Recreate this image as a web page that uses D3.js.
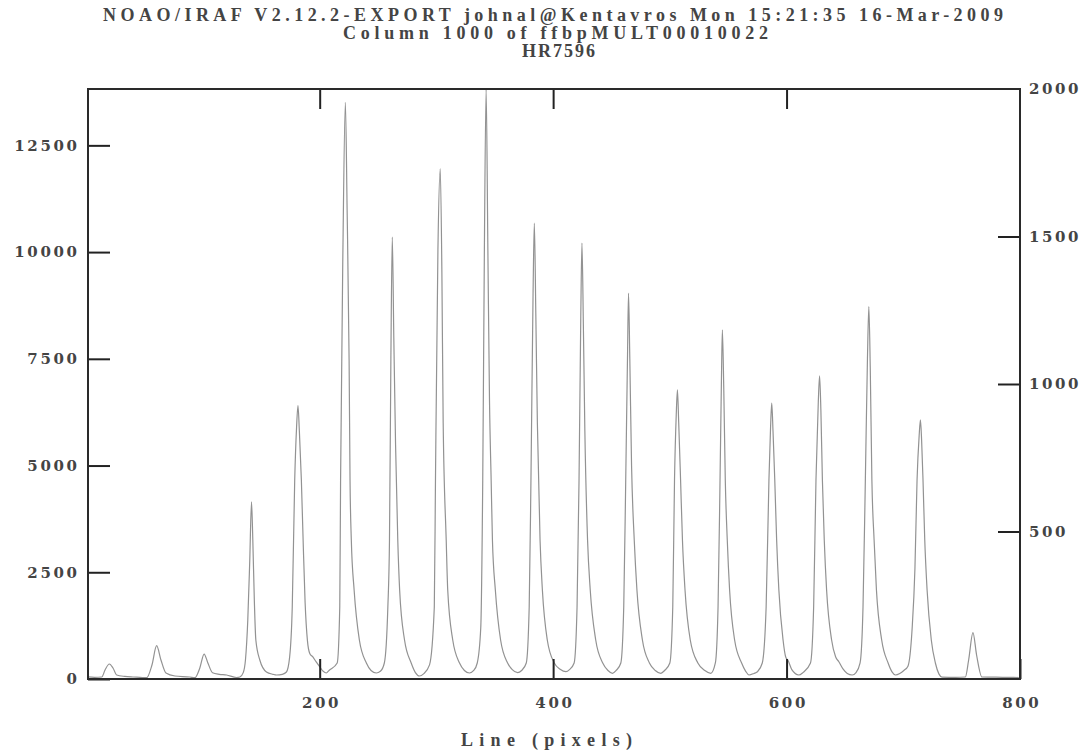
<!DOCTYPE html>
<html>
<head>
<meta charset="utf-8">
<script src="https://cdn.jsdelivr.net/npm/d3@7"></script>
<style>
  body { margin: 0; background: #fff; }
  text { font-family: "Liberation Serif", "DejaVu Serif", serif; font-weight: bold; fill: #444; }
</style>
</head>
<body>
<div id="plot"></div>
<script>
// column cut through the echelle orders
var linePix = [
    1.5, 7, 13.3, 16.1, 19.8, 22.9, 26.1, 33, 40, 46,
    51.8, 56.3, 60.3, 64, 68.3, 76, 88.7,
    93.1, 97.3, 101, 104.2, 108.2, 114, 120.2, 128.7,
    131.6, 134.5, 136.4, 138.4, 140.1, 141.6, 142.7, 144, 145.3, 148.7, 154.4, 160, 163,
    168, 171.5, 174.2, 176.5, 178.6, 180.2, 181.4, 182.6, 184.3, 185.8, 187.5, 189.5, 191.5, 194, 197, 200, 203, 205.7,
    208, 215, 217.2, 217.9, 219.9, 222, 223.5, 225.2, 226, 227.1, 229.5, 234, 240, 244, 248.5, 252,
    255.4, 258.4, 259.8, 261, 262.2, 263.5, 265, 266.9, 268.5, 272.7, 278.4, 282, 285.5, 289,
    294.1, 298.2, 299.2, 301.3, 303.3, 304.7, 305.8, 308.4, 309.7, 314, 319.8, 324, 328.3, 332,
    335, 338, 339.7, 341.1, 342.6, 344.1, 345.5, 346.9, 348, 350.5, 355, 361, 365, 369.6, 373,
    377, 379.5, 381, 382.8, 383.9, 385.2, 386.5, 388.8, 390.8, 395, 401, 406, 411, 414,
    418, 420.5, 422.2, 423.7, 424.7, 425.9, 427.2, 429.5, 431.8, 436.5, 442.5, 447, 450.9, 454,
    458, 460.5, 462.2, 463.7, 464.6, 465.7, 467.2, 469.5, 471.8, 476.5, 482.5, 487.5, 492.3, 495.5,
    500, 502.5, 504, 505.5, 506.5, 507.6, 509.2, 510.8, 513, 517.5, 524, 530, 535.1,
    539, 541.3, 543, 544.2, 545, 546.2, 547.5, 549.2, 551.2, 555.5, 561.5, 565, 567.8, 572,
    575, 579.2, 582.5, 584.9, 586.3, 587.3, 588.4, 589.9, 591.5, 593.4, 597, 599.2, 601.5, 604.5, 610.5, 614,
    620.5, 623.2, 625.2, 627.2, 628.3, 629.4, 630.7, 632.3, 634.3, 638.6, 642, 644.8, 648.5, 652, 656.2, 659.5,
    663, 665.5, 667.5, 669.3, 670.5, 671.7, 673.1, 675, 677, 681.5, 687, 690.5, 693.3, 697,
    700.5, 704, 707.5, 710, 711.8, 713.6, 714.7, 715.7, 716.9, 718.4, 720.4, 724, 727.5, 730.5, 733.2,
    745, 753.2, 756, 759.7, 762.8, 767.4, 785, 799
];
var counts = [
    50, 40, 47, 211, 351, 258, 94, 60, 47, 40,
    30, 328, 780, 445, 141, 70, 47,
    30, 258, 585, 375, 148, 110, 94, 35,
    47, 150, 445, 1382, 2787, 4152, 3256, 1850, 913, 445, 164, 110, 94,
    110, 164, 500, 1686, 4661, 5900, 6403, 5800, 4661, 3255, 1800, 900, 600, 522, 400, 288, 180, 141,
    200, 375, 1686, 4661, 10047, 13506, 11000, 7471, 4661, 3255, 2084, 913, 375, 200, 141, 180,
    375, 1686, 3255, 7500, 10349, 8000, 5500, 3255, 2084, 913, 375, 150, 70, 120,
    330, 1686, 4661, 10047, 11950, 9500, 6000, 3255, 2084, 913, 375, 200, 141, 200,
    375, 1200, 4661, 10047, 13820, 10047, 6500, 4661, 3255, 2084, 913, 375, 220, 148, 200,
    375, 1686, 4661, 9000, 10677, 8500, 6000, 3255, 2084, 913, 375, 230, 171, 220,
    375, 1686, 4661, 8500, 10209, 8300, 5800, 3255, 2084, 913, 375, 200, 134, 200,
    375, 1686, 4661, 7500, 9037, 7500, 5000, 3255, 2084, 913, 375, 200, 134, 200,
    375, 1686, 4661, 6200, 6771, 6000, 4661, 3255, 2084, 913, 375, 200, 134,
    375, 1686, 4661, 7000, 8177, 6800, 4661, 3255, 2084, 913, 375, 180, 94, 130,
    170, 375, 1686, 4661, 5900, 6460, 5800, 4661, 3255, 2084, 913, 522, 420, 220, 94, 150,
    375, 1686, 4661, 6500, 7099, 6300, 4661, 3255, 2084, 913, 520, 405, 230, 130, 94, 150,
    375, 1686, 4661, 7500, 8723, 7300, 4661, 3255, 2084, 913, 375, 160, 94, 130,
    200, 300, 1148, 2600, 4661, 5700, 6068, 5600, 4661, 3255, 2084, 913, 375, 120, 45,
    40, 47, 445, 1084, 562, 47, 40, 35
];

var titleLines = [
    "NOAO/IRAF V2.12.2-EXPORT johnal@Kentavros Mon 15:21:35 16-Mar-2009",
    "Column 1000 of ffbpMULT00010022",
    "HR7596"
];
var xLabel = "Line (pixels)";
var leftTicks = [0, 2500, 5000, 7500, 10000, 12500];
var rightTicks = [500, 1000, 1500, 2000];
var bottomTicks = [200, 400, 600, 800];
var topTicks = [200, 400, 600];

var data = linePix.map((d, i) => ({ line: d, value: counts[i] }));

var margin = { top: 89, right: 66, bottom: 73, left: 88 },
    width = 1086 - margin.left - margin.right,
    height = 752 - margin.top - margin.bottom;

var svgRoot = d3.select("#plot")
    .append("svg")
    .attr("width", 1086)
    .attr("height", 752);

svgRoot.append("rect")
    .attr("width", 1086).attr("height", 752)
    .attr("fill", "#fff");

var svg = svgRoot.append("g")
    .attr("transform", "translate(" + margin.left + "," + margin.top + ")");

var x = d3.scaleLinear().domain([1.5, 800]).range([0, width]);
var y = d3.scaleLinear().domain([0, 13820]).range([height, 0]);
var yRight = d3.scaleLinear().domain([0, 2000]).range([height, 0]);

// spectrum trace
svg.append("path")
    .datum(data)
    .attr("fill", "none")
    .attr("stroke", "#929292")
    .attr("stroke-width", 1.2)
    .attr("d", d3.line().curve(d3.curveMonotoneX).x(d => x(d.line)).y(d => y(d.value)));

// axes, ticks pointing inward like IRAF
var axLeft = svg.append("g")
    .call(d3.axisLeft(y).tickValues(leftTicks).tickSize(-22).tickPadding(8.5).tickFormat(d3.format("d")));
var axRight = svg.append("g")
    .attr("transform", "translate(" + width + ",0)")
    .call(d3.axisRight(yRight).tickValues(rightTicks).tickSize(-22).tickPadding(9).tickFormat(d3.format("d")));
var axBottom = svg.append("g")
    .attr("transform", "translate(0," + height + ")")
    .call(d3.axisBottom(x).tickValues(bottomTicks).tickSize(-20).tickPadding(18).tickFormat(d3.format("d")));
var axTop = svg.append("g")
    .call(d3.axisTop(x).tickValues(topTicks).tickSize(-20).tickFormat(""));

[axLeft, axRight, axBottom, axTop].forEach(function(g) {
    g.select(".domain").remove();
    g.selectAll(".tick line").attr("stroke", "#222").attr("stroke-width", 2);
    g.selectAll(".tick text")
        .style("font-family", "'DejaVu Serif', serif")
        .style("font-weight", "bold")
        .style("font-size", "15px")
        .style("letter-spacing", "2.6px")
        .attr("fill", "#555");
});
axBottom.selectAll(".tick text").attr("dx", "1.3");
axRight.selectAll(".tick line").filter(d => d === 2000).remove();

// frame
svg.append("rect")
    .attr("width", width)
    .attr("height", height)
    .attr("fill", "none")
    .attr("stroke", "#2a2a2a")
    .attr("stroke-width", 2);

// title block
var titleSpans = [[103, 21, 900], [343, 39, 425], [522, 57, 73]];
svgRoot.selectAll(".title")
    .data(titleLines)
    .enter()
    .append("text")
    .attr("class", "title")
    .attr("x", (d, i) => titleSpans[i][0])
    .attr("y", (d, i) => titleSpans[i][1])
    .attr("textLength", (d, i) => titleSpans[i][2])
    .attr("lengthAdjust", "spacing")
    .style("font-size", "18px")
    .text(d => d);

svgRoot.append("text")
    .attr("x", 461)
    .attr("y", 746)
    .attr("textLength", 171)
    .attr("lengthAdjust", "spacing")
    .style("font-size", "18px")
    .text(xLabel);
</script>
</body>
</html>
